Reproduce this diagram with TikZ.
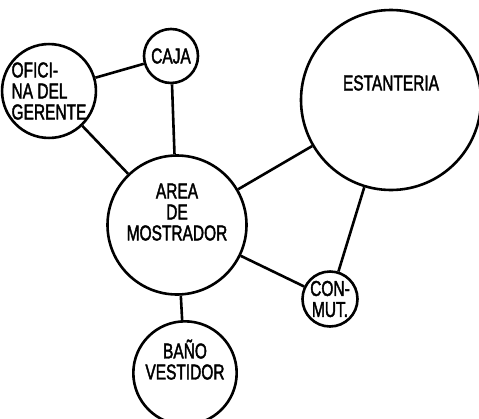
\documentclass[tikz,border=0pt]{standalone}
\usepackage{fontspec}
\setmainfont{Liberation Sans}[FakeStretch=0.72, FakeBold=1.8]
\usepackage{tikz}
\usetikzlibrary{positioning}

\begin{document}
\begin{tikzpicture}[x=1pt, y=-1pt, every node/.style={font=\fontsize{21.5}{21}\selectfont},
    room/.style={draw, circle, line width=2.6pt, align=center, inner sep=0pt}]
    \useasboundingbox (0,0) rectangle (479,418);
    \node [room, minimum size=90pt, align=left] (oficina) at (49,91) {OFICI-\\NA DEL\\GERENTE};
    \node [room, minimum size=54pt] (caja) at (171,56) {CAJA};
    \node [room, minimum size=180pt, label={[yshift=17pt]center:ESTANTERIA}] (estanteria) at (391,100) {};
    \node [room, minimum size=139pt] (area) at (177,225) {AREA\\DE\\MOSTRADOR\\[5pt]};
    \node [room, minimum size=55pt] (conmut) at (330,299) {CON-\\MUT.};
    \node [room, minimum size=88pt] (bano) at (185,373) {BAÑO\\VESTIDOR\\[6pt]};

    \draw [line width=2.6pt] (oficina) -- (caja);
    \draw [line width=2.6pt] (oficina) -- (area);
    \draw [line width=2.6pt] (caja) -- (area);
    \draw [line width=2.6pt] (area) -- (estanteria);
    \draw [line width=2.6pt] (area) -- (conmut);
    \draw [line width=2.6pt] (estanteria) -- (conmut);
    \draw [line width=2.6pt] (area) -- (bano);
\end{tikzpicture}
\end{document}
